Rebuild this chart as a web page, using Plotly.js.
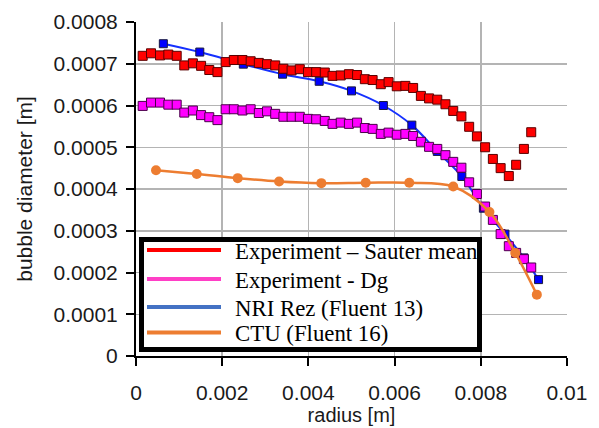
<!DOCTYPE html>
<html>
<head>
<meta charset="utf-8">
<script src="https://cdn.plot.ly/plotly-3.0.1.min.js"></script>
<style>html,body{margin:0;padding:0;background:#fff;}#chart{width:599px;height:428px;}</style>
</head>
<body>
<div id="chart"></div>
<script>
// ---- data ----
var seriesNames = ["Experiment \u2013 Sauter mean", "Experiment - Dg", "NRI Rez (Fluent 13)", "CTU (Fluent 16)"];

var expRadius = [0.000155,0.000348,0.000557,0.00075,0.000944,0.00112,0.00132,0.00151,0.0017,0.00189,
  0.00208,0.00227,0.00247,0.00266,0.00285,0.00304,0.00323,0.00342,0.00361,0.0038,
  0.00399,0.00418,0.00438,0.00456,0.00475,0.00494,0.00513,0.00531,0.00549,0.00568,
  0.00586,0.00605,0.00625,0.00643,0.00661,0.0068,0.00699,0.00718,0.00736,0.00755,
  0.00773,0.00791,0.0081,0.00828,0.00846,0.00865,0.00882,0.009,0.00917];

var sauterMean = [0.000719,0.000725,0.00072,0.000722,0.000719,0.000696,0.000701,0.000695,0.000685,0.00068,
  0.000704,0.000709,0.000709,0.000706,0.000702,0.000699,0.000696,0.000688,0.000684,0.000687,
  0.00068,0.00068,0.000679,0.000671,0.000672,0.000675,0.000673,0.000663,0.000661,0.000651,
  0.000656,0.000646,0.000647,0.000642,0.000623,0.000617,0.000614,0.000603,0.000587,0.000574,
  0.000549,0.000526,0.0005,0.000472,0.00045,0.000431,0.000458,0.000496,0.000536];

var dg = [0.000599,0.000607,0.000607,0.000602,0.000602,0.000583,0.000588,0.000577,0.000572,0.000565,
  0.000591,0.000591,0.000588,0.000591,0.000582,0.000586,0.00058,0.000573,0.000573,0.000573,
  0.000568,0.000567,0.000563,0.000556,0.000559,0.000556,0.000559,0.000546,0.000544,0.000532,
  0.000535,0.00053,0.000532,0.000527,0.000513,0.000501,0.000496,0.000481,0.000465,0.000451,
  0.000416,0.000388,0.000358,0.000326,0.000292,0.000263,0.000247,0.000232,0.000212];

var nriRadius = [0.000634,0.00148,0.00249,0.0034,0.00425,0.005,0.00574,0.0064,0.00699,0.00756,0.00806,0.00856,0.009,0.00934];
var nriDiam   = [0.000748,0.000728,0.000699,0.000675,0.000658,0.000635,0.0006,0.000553,0.00049,0.00043,0.000354,0.000292,0.000235,0.000183];

var ctuRadius = [0.000464,0.00141,0.00236,0.00332,0.0043,0.00533,0.00634,0.00736,0.0082,0.0088,0.0093];
var ctuDiam   = [0.000445,0.000436,0.000426,0.000418,0.000414,0.000415,0.000415,0.000406,0.000345,0.000247,0.000147];

var legendColors = ["#ff0000", "#ff3fc6", "#4472c4", "#ed7d31"];

// ---- traces ----
var traces = [
  {x: nriRadius, y: nriDiam, name: seriesNames[2], type: "scatter", mode: "lines+markers",
   line: {color: "#1530ff", width: 2, shape: "spline"},
   marker: {symbol: "square", size: 8, color: "#0000ff", line: {color: "#1a1a40", width: 1}}},
  {x: expRadius, y: sauterMean, name: seriesNames[0], type: "scatter", mode: "markers",
   marker: {symbol: "square", size: 9, color: "#ff0000", line: {color: "#5a0000", width: 1}}},
  {x: expRadius, y: dg, name: seriesNames[1], type: "scatter", mode: "markers",
   marker: {symbol: "square", size: 9, color: "#ff00ff", line: {color: "#4a004a", width: 1}}},
  {x: ctuRadius, y: ctuDiam, name: seriesNames[3], type: "scatter", mode: "lines+markers",
   line: {color: "#ed7d31", width: 2.5, shape: "spline"},
   marker: {symbol: "circle", size: 10, color: "#ed7d31"}}
];

// ---- legend drawn as a framed box ----
function px2x(px){ return (px - 136) / 431; }
function py2y(py){ return (356 - py) / 334; }
var rowY = [250, 279, 307, 332.5];
var shapes = [
  {type: "rect", xref: "paper", yref: "paper", x0: px2x(141.5), x1: px2x(479.5), y0: py2y(349.5), y1: py2y(239.5),
   fillcolor: "#ffffff", line: {color: "#000000", width: 5}, layer: "above"}
];
var annotations = [];
for (var i = 0; i < seriesNames.length; i++) {
  shapes.push({type: "line", xref: "paper", yref: "paper", x0: px2x(147), x1: px2x(221),
    y0: py2y(rowY[i]), y1: py2y(rowY[i]), line: {color: legendColors[i], width: 4}, layer: "above"});
  annotations.push({xref: "paper", yref: "paper", x: px2x(233), y: py2y(rowY[i] + 1), xanchor: "left", yanchor: "middle",
    text: seriesNames[i], showarrow: false, font: {family: "Liberation Serif, Times New Roman, serif", size: 22.8, color: "#000"}});
}

var axisFont = {family: "Liberation Sans, Arial, sans-serif", size: 21, color: "#1a1a1a"};
var titleFont = {family: "Liberation Sans, Arial, sans-serif", size: 20, color: "#1a1a1a"};
var layout = {
  width: 599, height: 428,
  margin: {l: 136, r: 32, t: 22, b: 72},
  paper_bgcolor: "#fff", plot_bgcolor: "#fff",
  showlegend: false,
  font: axisFont,
  xaxis: {
    range: [0, 0.01], dtick: 0.002, tick0: 0, tickformat: ".3~f",
    showgrid: true, gridcolor: "#b4b4b4", gridwidth: 1.5, zeroline: false,
    showline: true, linecolor: "#000", linewidth: 2,
    ticks: "outside", ticklen: 8, tickwidth: 2, tickcolor: "#000",
    ticklabelstandoff: 9, tickfont: axisFont,
    title: {text: "radius [m]", font: titleFont, standoff: 4}
  },
  yaxis: {
    range: [0, 0.0008], dtick: 0.0001, tick0: 0, tickformat: ".4~f",
    showgrid: true, gridcolor: "#b4b4b4", gridwidth: 1.5, zeroline: false,
    showline: true, linecolor: "#000", linewidth: 2,
    ticks: "outside", ticklen: 8, tickwidth: 2, tickcolor: "#000",
    ticklabelstandoff: 4, tickfont: axisFont,
    title: {text: "bubble diameter [m]", font: axisFont, standoff: 15}
  },
  shapes: shapes,
  annotations: annotations
};

Plotly.newPlot("chart", traces, layout, {staticPlot: true, displayModeBar: false});
</script>
</body>
</html>
